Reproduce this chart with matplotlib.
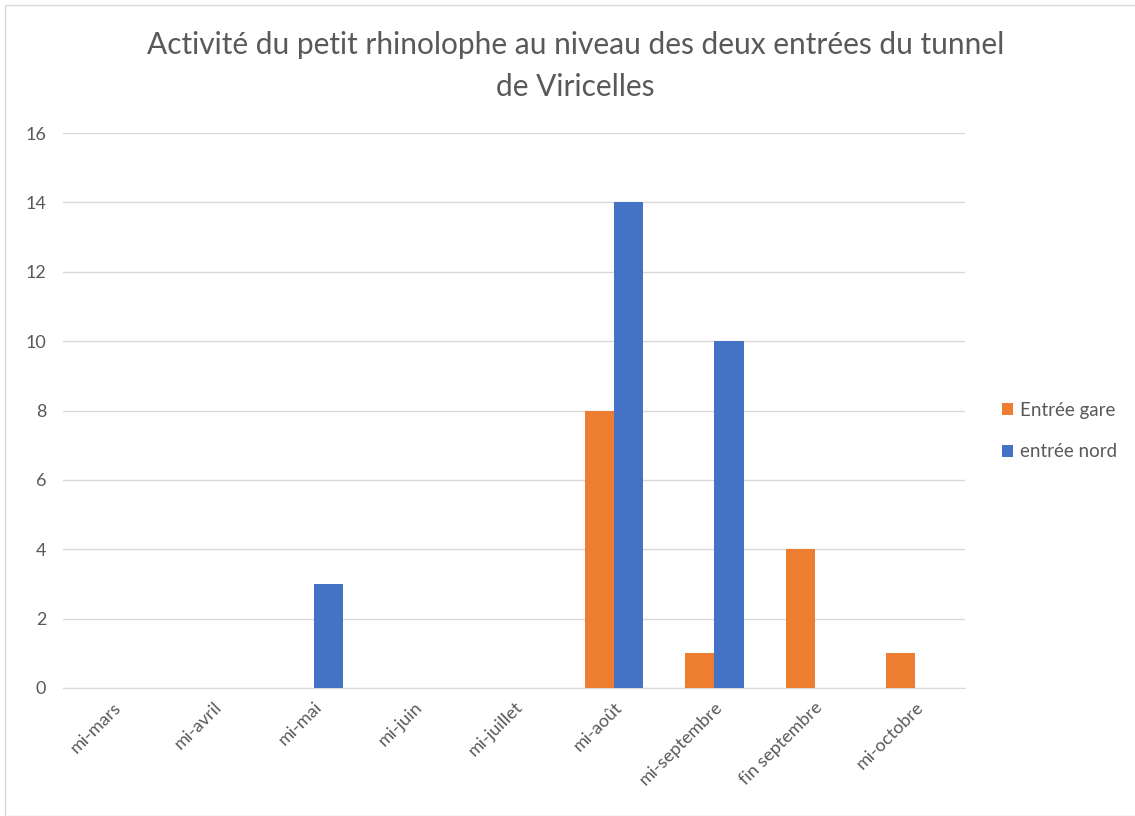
import matplotlib.pyplot as plt
import numpy as np
from matplotlib.patches import Rectangle

categories = ['mi-mars', 'mi-avril', 'mi-mai', 'mi-juin', 'mi-juillet',
              'mi-août', 'mi-septembre', 'fin septembre', 'mi-octobre']
entree_gare = [0, 0, 0, 0, 0, 8, 1, 4, 1]
entree_nord = [0, 0, 3, 0, 0, 14, 10, 0, 0]
yticks = [0, 2, 4, 6, 8, 10, 12, 14, 16]

plt.rcParams['font.family'] = ['Lato', 'DejaVu Sans']
grey = '#595959'

fig = plt.figure(figsize=(11.35, 8.16), dpi=100)
ax = fig.add_axes([63 / 1135, 1 - 688 / 816, 902 / 1135, 555 / 816])

ind = np.arange(len(categories))
width = 0.29
ax.bar(ind - width / 2, entree_gare, width, color='#ED7D31', label='Entrée gare', zorder=3)
ax.bar(ind + width / 2, entree_nord, width, color='#4472C4', label='entrée nord', zorder=3)

ax.set_xlim(-0.5, len(categories) - 0.5)
ax.set_ylim(0, 16)
ax.set_yticks(yticks)
ax.yaxis.grid(True, color='#d9d9d9', linewidth=1, zorder=0)
for s in ['top', 'right', 'left']:
    ax.spines[s].set_visible(False)
ax.spines['bottom'].set_color('#d9d9d9')
ax.tick_params(axis='both', length=0, colors=grey, labelsize=13)
ax.tick_params(axis='y', pad=12)
ax.set_xticks(ind)
ax.set_xticklabels(categories, rotation=45, ha='right', rotation_mode='anchor')
ax.tick_params(axis='x', pad=8)

fig.text(0.507, 1 - 45 / 816, 'Activité du petit rhinolophe au niveau des deux entrées du tunnel',
         ha='center', va='center', fontsize=21.5, color=grey)
fig.text(0.507, 1 - 87 / 816, 'de Viricelles', ha='center', va='center', fontsize=21.5, color=grey)

leg = ax.legend(loc='center left', bbox_to_anchor=(1.022, 0.463), frameon=False,
                fontsize=13.5, handlelength=0.6, handleheight=0.6, handletextpad=0.4,
                labelspacing=1.3, labelcolor=grey)

fig.patches.append(Rectangle((5 / 1135, 0), 1.0, 1 - 5 / 816, transform=fig.transFigure,
                             fill=False, edgecolor='#d9d9d9', linewidth=1))

fig.savefig('out.png', dpi=100)
